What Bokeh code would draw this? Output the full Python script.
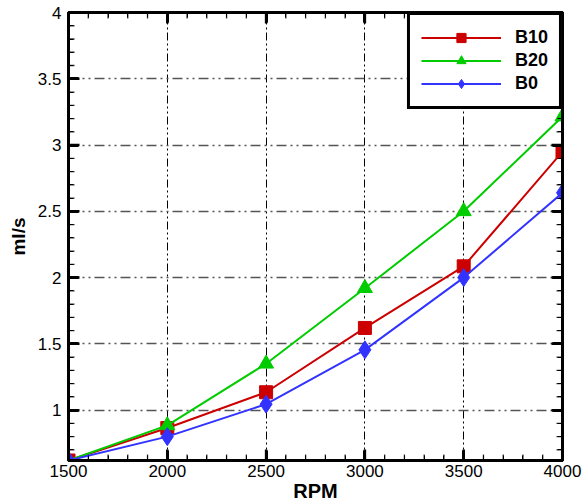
import math
from bokeh.plotting import figure
from bokeh.models import (FixedTicker, LinearAxis, Range1d, CustomJSTickFormatter, Legend)
from bokeh.embed import file_html
from bokeh.resources import INLINE

rpm = [1500, 2000, 2500, 3000, 3500, 4000]
b10 = [0.62, 0.865, 1.135, 1.62, 2.085, 2.95]
b20 = [0.62, 0.885, 1.35, 1.92, 2.50, 3.215]
b0 = [0.62, 0.80, 1.045, 1.455, 2.00, 2.64]

X_MIN, X_MAX = 1500, 4000
Y_MIN, Y_MAX = 0.62, 4.0
x_ticks = [1500, 2000, 2500, 3000, 3500, 4000]
x_minor = [v for v in range(1500, 4001, 100) if v not in x_ticks]
y_ticks = [1, 1.5, 2, 2.5, 3, 3.5, 4]
y_minor = [round(0.7 + 0.1 * i, 1) for i in range(34)]
y_minor = [v for v in y_minor if v not in y_ticks]

p = figure(width=587, height=504, output_backend="svg", toolbar_location=None,
           x_range=Range1d(X_MIN, X_MAX), y_range=Range1d(Y_MIN, Y_MAX),
           min_border_left=68, min_border_right=25, min_border_top=12, min_border_bottom=40)
p.outline_line_color = "black"
p.outline_line_width = 3
p.outline_line_alpha = 1
p.background_fill_color = "white"
p.border_fill_color = "white"

FONT = "Liberation Sans"
fmt = CustomJSTickFormatter(code="return String(Math.round(tick*100)/100);")
blank = CustomJSTickFormatter(code="return '';")

for ax in (p.xaxis[0], p.yaxis[0]):
    ax.major_tick_in = 10
    ax.major_tick_out = 0
    ax.minor_tick_in = 5
    ax.minor_tick_out = 0
    ax.axis_line_width = 3
    ax.axis_line_color = "black"
    ax.major_tick_line_width = 3
    ax.major_tick_line_color = "black"
    ax.minor_tick_line_width = 1
    ax.minor_tick_line_color = "black"
    ax.major_label_text_font = FONT
    ax.major_label_text_font_size = "17px"
    ax.major_label_text_color = "black"
    ax.axis_label_text_font = FONT
    ax.axis_label_text_font_style = "bold"
    ax.axis_label_text_font_size = "20px"
    ax.axis_label_text_color = "black"
    ax.formatter = fmt

p.xaxis[0].ticker = FixedTicker(ticks=x_ticks, minor_ticks=x_minor)
p.yaxis[0].ticker = FixedTicker(ticks=y_ticks, minor_ticks=y_minor)
p.xaxis[0].axis_label = "RPM"
p.yaxis[0].axis_label = "ml/s"
p.xaxis[0].major_label_standoff = 4
p.xaxis[0].axis_label_standoff = 0
p.yaxis[0].major_label_standoff = 7
p.yaxis[0].axis_label_standoff = 6
p.yaxis[0].axis_label_text_font_size = "19px"

for loc, tk in (("above", FixedTicker(ticks=x_ticks, minor_ticks=x_minor)),
                ("right", FixedTicker(ticks=y_ticks, minor_ticks=y_minor))):
    ax = LinearAxis(ticker=tk, formatter=blank, major_tick_in=10, major_tick_out=0,
                    minor_tick_in=5, minor_tick_out=0, axis_line_width=3,
                    axis_line_color="black", major_tick_line_width=3,
                    major_tick_line_color="black", minor_tick_line_color="black",
                    major_label_standoff=0)
    p.add_layout(ax, loc)

p.xgrid.ticker = FixedTicker(ticks=x_ticks)
p.ygrid.ticker = FixedTicker(ticks=y_ticks)
p.xgrid.grid_line_color = "black"
p.xgrid.grid_line_width = 1
p.xgrid.grid_line_dash = "8 3 2 3 2 3"
p.ygrid.grid_line_color = "#555555"
p.ygrid.grid_line_width = 1.5
p.ygrid.grid_line_dash = "10 4 2 4 2 4"

# inward tick marks along all four frame edges (clipped to the frame)
for edge in (Y_MIN, Y_MAX):
    p.scatter(x_ticks, [edge] * len(x_ticks), marker="dash", size=22, angle=math.pi / 2,
              line_color="black", line_width=2.5)
    p.scatter(x_minor, [edge] * len(x_minor), marker="dash", size=12, angle=math.pi / 2,
              line_color="#333333", line_width=1.3)
for edge in (X_MIN, X_MAX):
    p.scatter([edge] * len(y_ticks), y_ticks, marker="dash", size=22,
              line_color="black", line_width=2.5)
    p.scatter([edge] * len(y_minor), y_minor, marker="dash", size=12,
              line_color="#333333", line_width=1.3)

series = [
    ("B10", b10, "#CC0000", "square", 13),
    ("B20", b20, "#00CC00", "triangle", 15),
    ("B0", b0, "#3333FF", "diamond", 18),
]
items = []
for name, ys, col, mk, sz in series:
    l = p.line(rpm, ys, line_color=col, line_width=2)
    s = p.scatter(rpm, ys, marker=mk, size=sz, fill_color=col, line_color=col)
    items.append((name, [l, s]))

leg = Legend(items=items, location="top_right")
leg.border_line_color = "black"
leg.border_line_width = 3
leg.border_line_alpha = 1
leg.padding = 11
leg.spacing = 0
leg.margin = 0
leg.glyph_width = 80
leg.glyph_height = 23
leg.label_height = 23
leg.label_standoff = 14
leg.label_text_font = FONT
leg.label_text_font_style = "bold"
leg.label_text_font_size = "18px"
leg.label_text_color = "black"
leg.background_fill_alpha = 1
p.add_layout(leg, "center")

open("out.html", "w").write(file_html(p, INLINE))
